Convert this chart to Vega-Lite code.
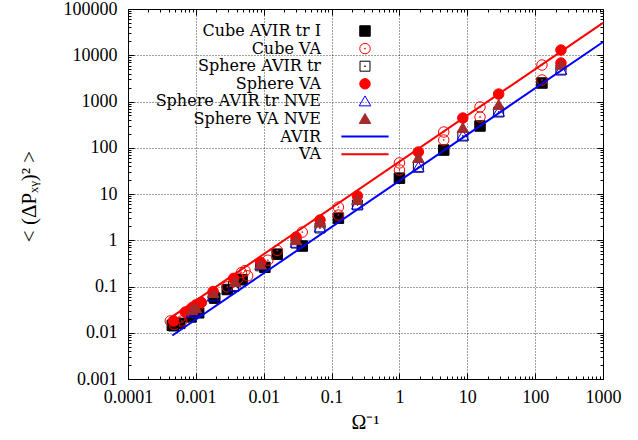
{
  "$schema": "https://vega.github.io/schema/vega-lite/v6.json",
  "width": 475,
  "height": 370,
  "autosize": {"type": "none"},
  "padding": {"left": 128, "top": 9, "right": 35, "bottom": 61},
  "background": "white",
  "datasets": {
    "pts": [
      {"s": "Cube AVIR tr I", "x": 0.00045, "y": 0.0145},
      {"s": "Cube AVIR tr I", "x": 0.00058, "y": 0.016},
      {"s": "Cube AVIR tr I", "x": 0.00085, "y": 0.022},
      {"s": "Cube AVIR tr I", "x": 0.0011, "y": 0.027},
      {"s": "Cube AVIR tr I", "x": 0.0019, "y": 0.056},
      {"s": "Cube AVIR tr I", "x": 0.0029, "y": 0.086},
      {"s": "Cube AVIR tr I", "x": 0.0048, "y": 0.14},
      {"s": "Cube AVIR tr I", "x": 0.0104, "y": 0.26},
      {"s": "Cube AVIR tr I", "x": 0.0158, "y": 0.5},
      {"s": "Cube AVIR tr I", "x": 0.037, "y": 0.75},
      {"s": "Cube AVIR tr I", "x": 0.126, "y": 3.0},
      {"s": "Cube AVIR tr I", "x": 1, "y": 22},
      {"s": "Cube AVIR tr I", "x": 4.5, "y": 89},
      {"s": "Cube AVIR tr I", "x": 15.4, "y": 295},
      {"s": "Cube AVIR tr I", "x": 126, "y": 2510},
      {"s": "Cube VA", "x": 0.00042, "y": 0.018},
      {"s": "Cube VA", "x": 0.00048, "y": 0.015},
      {"s": "Cube VA", "x": 0.00058, "y": 0.021},
      {"s": "Cube VA", "x": 0.00062, "y": 0.018},
      {"s": "Cube VA", "x": 0.00092, "y": 0.035},
      {"s": "Cube VA", "x": 0.0011, "y": 0.04},
      {"s": "Cube VA", "x": 0.0012, "y": 0.045},
      {"s": "Cube VA", "x": 0.0029, "y": 0.098},
      {"s": "Cube VA", "x": 0.0042, "y": 0.15},
      {"s": "Cube VA", "x": 0.0047, "y": 0.2},
      {"s": "Cube VA", "x": 0.0053, "y": 0.22},
      {"s": "Cube VA", "x": 0.0058, "y": 0.17},
      {"s": "Cube VA", "x": 0.0115, "y": 0.37},
      {"s": "Cube VA", "x": 0.0158, "y": 0.6},
      {"s": "Cube VA", "x": 0.037, "y": 1.5},
      {"s": "Cube VA", "x": 0.126, "y": 5.2},
      {"s": "Cube VA", "x": 0.126, "y": 3.5},
      {"s": "Cube VA", "x": 1, "y": 47},
      {"s": "Cube VA", "x": 1, "y": 33},
      {"s": "Cube VA", "x": 4.5, "y": 219},
      {"s": "Cube VA", "x": 4.5, "y": 147},
      {"s": "Cube VA", "x": 15.4, "y": 760},
      {"s": "Cube VA", "x": 15.4, "y": 462},
      {"s": "Cube VA", "x": 126, "y": 6150},
      {"s": "Cube VA", "x": 126, "y": 2920},
      {"s": "Sphere AVIR tr", "x": 0.00047, "y": 0.014},
      {"s": "Sphere AVIR tr", "x": 0.00088, "y": 0.026},
      {"s": "Sphere AVIR tr", "x": 0.001, "y": 0.029},
      {"s": "Sphere AVIR tr", "x": 0.0018, "y": 0.06},
      {"s": "Sphere AVIR tr", "x": 0.0036, "y": 0.1},
      {"s": "Sphere AVIR tr", "x": 0.009, "y": 0.28},
      {"s": "Sphere AVIR tr", "x": 0.03, "y": 0.87},
      {"s": "Sphere AVIR tr", "x": 0.0675, "y": 1.84},
      {"s": "Sphere AVIR tr", "x": 0.24, "y": 5.8},
      {"s": "Sphere AVIR tr", "x": 1.9, "y": 38},
      {"s": "Sphere AVIR tr", "x": 8.6, "y": 180},
      {"s": "Sphere AVIR tr", "x": 29, "y": 593},
      {"s": "Sphere AVIR tr", "x": 240, "y": 4800},
      {"s": "Sphere VA", "x": 0.00047, "y": 0.018},
      {"s": "Sphere VA", "x": 0.0007, "y": 0.028},
      {"s": "Sphere VA", "x": 0.00088, "y": 0.035},
      {"s": "Sphere VA", "x": 0.001, "y": 0.04},
      {"s": "Sphere VA", "x": 0.0012, "y": 0.045},
      {"s": "Sphere VA", "x": 0.0018, "y": 0.078},
      {"s": "Sphere VA", "x": 0.0036, "y": 0.15},
      {"s": "Sphere VA", "x": 0.009, "y": 0.33},
      {"s": "Sphere VA", "x": 0.03, "y": 1.17},
      {"s": "Sphere VA", "x": 0.0675, "y": 2.74},
      {"s": "Sphere VA", "x": 0.24, "y": 9.1},
      {"s": "Sphere VA", "x": 1.9, "y": 81},
      {"s": "Sphere VA", "x": 8.6, "y": 440},
      {"s": "Sphere VA", "x": 29, "y": 1450},
      {"s": "Sphere VA", "x": 240, "y": 12970},
      {"s": "Sphere VA", "x": 240, "y": 6790},
      {"s": "Sphere AVIR tr NVE", "x": 0.00088, "y": 0.027},
      {"s": "Sphere AVIR tr NVE", "x": 0.001, "y": 0.029},
      {"s": "Sphere AVIR tr NVE", "x": 0.0018, "y": 0.061},
      {"s": "Sphere AVIR tr NVE", "x": 0.0036, "y": 0.102},
      {"s": "Sphere AVIR tr NVE", "x": 0.009, "y": 0.29},
      {"s": "Sphere AVIR tr NVE", "x": 0.03, "y": 0.88},
      {"s": "Sphere AVIR tr NVE", "x": 0.0675, "y": 1.9},
      {"s": "Sphere AVIR tr NVE", "x": 0.24, "y": 5.9},
      {"s": "Sphere AVIR tr NVE", "x": 1.9, "y": 38},
      {"s": "Sphere AVIR tr NVE", "x": 8.6, "y": 182},
      {"s": "Sphere AVIR tr NVE", "x": 29, "y": 600},
      {"s": "Sphere AVIR tr NVE", "x": 240, "y": 4850},
      {"s": "Sphere VA NVE", "x": 0.00088, "y": 0.031},
      {"s": "Sphere VA NVE", "x": 0.001, "y": 0.034},
      {"s": "Sphere VA NVE", "x": 0.0018, "y": 0.072},
      {"s": "Sphere VA NVE", "x": 0.0038, "y": 0.125},
      {"s": "Sphere VA NVE", "x": 0.009, "y": 0.3},
      {"s": "Sphere VA NVE", "x": 0.03, "y": 1.0},
      {"s": "Sphere VA NVE", "x": 0.0675, "y": 2.4},
      {"s": "Sphere VA NVE", "x": 0.24, "y": 7.4},
      {"s": "Sphere VA NVE", "x": 1.9, "y": 60},
      {"s": "Sphere VA NVE", "x": 8.6, "y": 267},
      {"s": "Sphere VA NVE", "x": 29, "y": 840},
      {"s": "Sphere VA NVE", "x": 240, "y": 6200}
    ],
    "fit": [
      {"fit": "AVIR", "x": 0.00045, "y": 0.0087},
      {"fit": "AVIR", "x": 1000, "y": 19300},
      {"fit": "VA", "x": 0.0004, "y": 0.02},
      {"fit": "VA", "x": 1000, "y": 50000}
    ]
  },
  "config": {
    "view": {"stroke": null},
    "axis": {
      "labelFont": "Liberation Serif",
      "labelFontSize": 18,
      "labelColor": "black",
      "titleFont": "Liberation Serif",
      "titleFontSize": 20,
      "titleColor": "black",
      "titleFontWeight": "normal",
      "domainColor": "black",
      "domainWidth": 1,
      "tickColor": "black",
      "tickWidth": 1,
      "gridColor": "black"
    },
    "legend": {
      "orient": "none",
      "legendX": 229,
      "legendY": 14,
      "labelAlign": "right",
      "labelOffset": -52,
      "labelFont": "DejaVu Serif",
      "labelFontSize": 16,
      "labelColor": "black",
      "labelLimit": 400,
      "rowPadding": 1.6,
      "symbolSize": 110,
      "symbolStrokeWidth": 1,
      "padding": 0
    }
  },
  "layer": [
    {
      "data": {"name": "pts"},
      "mark": {"type": "point", "filled": true, "opacity": 1, "size": 110},
      "encoding": {
        "x": {"field": "x", "type": "quantitative", "scale": {"type": "log", "domain": [0.0001, 1000], "nice": false},
          "axis": {"orient": "bottom", "values": [0.0002,0.0003,0.0004,0.0005,0.0006,0.0007,0.0008,0.0009,0.002,0.003,0.004,0.005,0.006,0.007,0.008,0.009,0.02,0.03,0.04,0.05,0.06,0.07,0.08,0.09,0.2,0.3,0.4,0.5,0.6,0.7,0.8,0.9,2,3,4,5,6,7,8,9,20,30,40,50,60,70,80,90,200,300,400,500,600,700,800,900], "labels": false, "grid": false, "domain": false, "tickSize": -3, "title": null}},
        "y": {"field": "y", "type": "quantitative", "scale": {"type": "log", "domain": [0.001, 100000], "nice": false},
          "axis": {"orient": "left", "values": [0.002,0.003,0.004,0.005,0.006,0.007,0.008,0.009,0.02,0.03,0.04,0.05,0.06,0.07,0.08,0.09,0.2,0.3,0.4,0.5,0.6,0.7,0.8,0.9,2,3,4,5,6,7,8,9,20,30,40,50,60,70,80,90,200,300,400,500,600,700,800,900,2000,3000,4000,5000,6000,7000,8000,9000,20000,30000,40000,50000,60000,70000,80000,90000], "labels": false, "grid": false, "domain": false, "tickSize": -3, "title": null}},
        "shape": {"field": "s", "type": "nominal", "legend": {"title": null},
          "scale": {"domain": ["Cube AVIR tr I", "Cube VA", "Sphere AVIR tr", "Sphere VA", "Sphere AVIR tr NVE", "Sphere VA NVE", "AVIR", "VA"],
            "range": ["square", "M1,0A1,1,0,1,1,-1,0A1,1,0,1,1,1,0ZM0.1,0A0.1,0.1,0,1,1,-0.1,0A0.1,0.1,0,1,1,0.1,0Z", "M-0.95,-0.95L0.95,-0.95L0.95,0.95L-0.95,0.95ZM0.1,0A0.1,0.1,0,1,1,-0.1,0A0.1,0.1,0,1,1,0.1,0Z", "circle", "M0,-1.05L1.1,0.85L-1.1,0.85Z", "M0,-1.05L1.1,0.85L-1.1,0.85Z", "M-4.5,0L4.5,0", "M-4.5,0L4.5,0"]}},
        "fill": {"field": "s", "type": "nominal", "legend": {"title": null},
          "scale": {"domain": ["Cube AVIR tr I", "Cube VA", "Sphere AVIR tr", "Sphere VA", "Sphere AVIR tr NVE", "Sphere VA NVE", "AVIR", "VA"],
            "range": ["#000000", "transparent", "transparent", "#ff0000", "transparent", "#a52a2a", "transparent", "transparent"]}},
        "stroke": {"field": "s", "type": "nominal", "legend": {"title": null},
          "scale": {"domain": ["Cube AVIR tr I", "Cube VA", "Sphere AVIR tr", "Sphere VA", "Sphere AVIR tr NVE", "Sphere VA NVE", "AVIR", "VA"],
            "range": ["#000000", "#ff0000", "#000000", "#ff0000", "#0000ff", "#a52a2a", "#0000ff", "#ff0000"]}},
        "strokeWidth": {"field": "s", "type": "nominal", "legend": {"title": null},
          "scale": {"type": "ordinal", "domain": ["Cube AVIR tr I", "Cube VA", "Sphere AVIR tr", "Sphere VA", "Sphere AVIR tr NVE", "Sphere VA NVE", "AVIR", "VA"],
            "range": [1, 1, 1, 1, 1, 1, 2, 2]}}
      }
    },
    {
      "data": {"name": "fit"},
      "transform": [{"filter": "datum.fit === 'AVIR'"}],
      "mark": {"type": "line", "color": "#0000ff", "strokeWidth": 2},
      "encoding": {
        "x": {"field": "x", "type": "quantitative", "scale": {"type": "log", "domain": [0.0001, 1000], "nice": false},
          "axis": {"orient": "bottom", "values": [0.0001, 0.001, 0.01, 0.1, 1, 10, 100, 1000], "format": "~g", "grid": true, "gridDash": [1, 2], "gridOpacity": 0.75, "tickSize": -6, "labelPadding": 15, "labelFlush": false, "labelOverlap": false, "title": "Ω⁻¹", "titleX": 237, "titleY": 43, "titleBaseline": "middle", "titleAlign": "center"}},
        "y": {"field": "y", "type": "quantitative", "scale": {"type": "log", "domain": [0.001, 100000], "nice": false},
          "axis": {"orient": "left", "values": [0.001, 0.01, 0.1, 1, 10, 100, 1000, 10000, 100000], "format": "~g", "grid": true, "gridDash": [1, 2], "gridOpacity": 0.75, "tickSize": -6, "labelPadding": 17, "labelFlush": false, "labelOverlap": false, "title": "< (ΔPₓᵧ)² >", "titleFontSize": 21, "titleX": -99, "titleY": 187, "titleAngle": 270, "titleBaseline": "middle", "titleAlign": "center"}}
      }
    },
    {
      "data": {"name": "fit"},
      "transform": [{"filter": "datum.fit === 'VA'"}],
      "mark": {"type": "line", "color": "#ff0000", "strokeWidth": 2},
      "encoding": {
        "x": {"field": "x", "type": "quantitative", "scale": {"type": "log", "domain": [0.0001, 1000], "nice": false},
          "axis": {"orient": "top", "values": [0.0001, 0.001, 0.01, 0.1, 1, 10, 100, 1000], "labels": false, "grid": false, "tickSize": -6, "title": null}},
        "y": {"field": "y", "type": "quantitative", "scale": {"type": "log", "domain": [0.001, 100000], "nice": false},
          "axis": {"orient": "right", "values": [0.001, 0.01, 0.1, 1, 10, 100, 1000, 10000, 100000], "labels": false, "grid": false, "tickSize": -6, "title": null}}
      }
    },
    {
      "data": {"name": "fit"},
      "mark": {"type": "point", "opacity": 0},
      "encoding": {
        "x": {"field": "x", "type": "quantitative", "scale": {"type": "log", "domain": [0.0001, 1000], "nice": false},
          "axis": {"orient": "top", "values": [0.0002,0.0003,0.0004,0.0005,0.0006,0.0007,0.0008,0.0009,0.002,0.003,0.004,0.005,0.006,0.007,0.008,0.009,0.02,0.03,0.04,0.05,0.06,0.07,0.08,0.09,0.2,0.3,0.4,0.5,0.6,0.7,0.8,0.9,2,3,4,5,6,7,8,9,20,30,40,50,60,70,80,90,200,300,400,500,600,700,800,900], "labels": false, "grid": false, "domain": false, "tickSize": -3, "title": null}},
        "y": {"field": "y", "type": "quantitative", "scale": {"type": "log", "domain": [0.001, 100000], "nice": false},
          "axis": {"orient": "right", "values": [0.002,0.003,0.004,0.005,0.006,0.007,0.008,0.009,0.02,0.03,0.04,0.05,0.06,0.07,0.08,0.09,0.2,0.3,0.4,0.5,0.6,0.7,0.8,0.9,2,3,4,5,6,7,8,9,20,30,40,50,60,70,80,90,200,300,400,500,600,700,800,900,2000,3000,4000,5000,6000,7000,8000,9000,20000,30000,40000,50000,60000,70000,80000,90000], "labels": false, "grid": false, "domain": false, "tickSize": -3, "title": null}}
      }
    },
    {
      "mark": {"type": "text", "text": "SHEAR", "font": "Liberation Serif", "fontSize": 20, "color": "black", "align": "center", "baseline": "middle"},
      "encoding": {
        "x": {"datum": 100, "type": "quantitative", "axis": null},
        "y": {"datum": 0.24, "type": "quantitative", "axis": null}
      }
    }
  ],
  "resolve": {"axis": {"x": "independent", "y": "independent"}}
}
